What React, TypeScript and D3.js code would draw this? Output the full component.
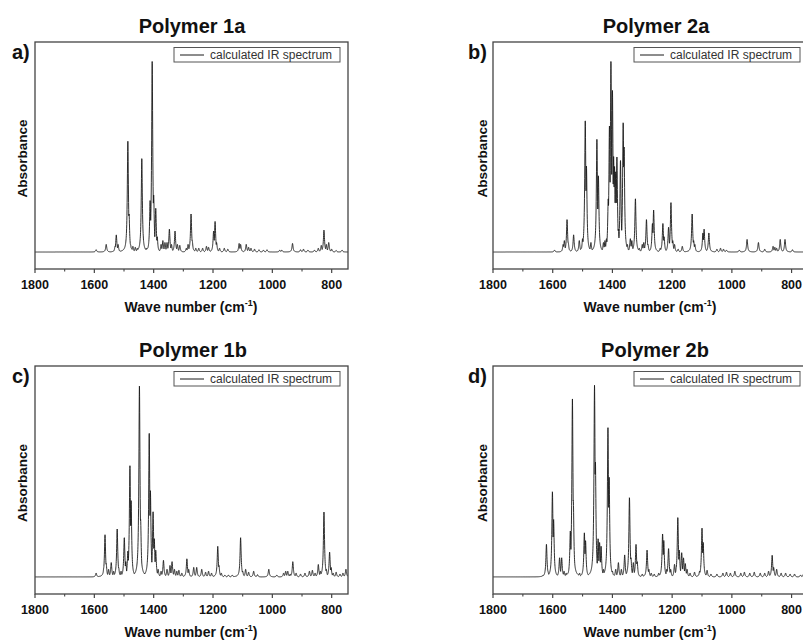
import React from "react";
import * as d3 from "d3";

// Wavenumber axis (cm^-1), reversed as usual for IR spectra
const wavenumberDomain = [1800, 745];
const absorbanceDomain = [-0.089, 1.1];
const majorTicks = [1800, 1600, 1400, 1200, 1000, 800];
const minorTicks = [1700, 1500, 1300, 1100, 900];

const panelLetters = ["a)", "b)", "c)", "d)"];
const panelTitles = ["Polymer 1a", "Polymer 2a", "Polymer 1b", "Polymer 2b"];
const legendLabel = "calculated IR spectrum";
const yAxisLabel = "Absorbance";

// Calculated vibrational bands: [wavenumber cm^-1, relative intensity]
const peaks1a: [number, number][] = [
  [1594, 0.012], [1560, 0.04], [1530, 0.03], [1526, 0.09], [1520, 0.04],
  [1487, 0.58], [1483, 0.2], [1478, 0.04], [1470, 0.03], [1462, 0.025], [1455, 0.02],
  [1440, 0.49], [1436, 0.1], [1425, 0.02], [1412, 0.27], [1409, 0.2], [1405, 1.0],
  [1400, 0.3], [1393, 0.23], [1388, 0.08], [1375, 0.04], [1369, 0.06], [1362, 0.05],
  [1355, 0.05], [1347, 0.12], [1340, 0.04], [1328, 0.11], [1320, 0.04], [1312, 0.035],
  [1290, 0.02], [1284, 0.04], [1274, 0.2], [1270, 0.06], [1258, 0.02], [1248, 0.02],
  [1235, 0.02], [1222, 0.03], [1215, 0.025], [1198, 0.11], [1193, 0.16], [1188, 0.05],
  [1178, 0.02], [1162, 0.02], [1150, 0.015], [1112, 0.045], [1107, 0.04], [1088, 0.04],
  [1080, 0.025], [1072, 0.02], [1060, 0.015], [1045, 0.012], [1030, 0.01], [1018, 0.012],
  [975, 0.01], [968, 0.01], [932, 0.045], [905, 0.012], [895, 0.015], [880, 0.01],
  [858, 0.01], [845, 0.02], [835, 0.035], [826, 0.115], [818, 0.04], [810, 0.05],
  [800, 0.015], [785, 0.008], [765, 0.01],
];

const peaks2a: [number, number][] = [
  [1594, 0.01], [1565, 0.04], [1561, 0.06], [1552, 0.17], [1548, 0.05], [1530, 0.09],
  [1511, 0.06], [1500, 0.07], [1491, 0.69], [1487, 0.45], [1472, 0.05], [1452, 0.59],
  [1447, 0.4], [1440, 0.03], [1430, 0.05], [1425, 0.06], [1420, 0.07], [1414, 0.28],
  [1410, 0.66], [1405, 1.0], [1400, 0.85], [1396, 0.5], [1393, 0.45], [1389, 0.42],
  [1385, 0.5], [1380, 0.12], [1373, 0.48], [1368, 0.1], [1364, 0.68], [1361, 0.55],
  [1350, 0.04], [1340, 0.07], [1335, 0.06], [1323, 0.28], [1310, 0.02], [1300, 0.04],
  [1295, 0.05], [1290, 0.04], [1286, 0.17], [1281, 0.04], [1266, 0.15], [1262, 0.22],
  [1240, 0.02], [1231, 0.15], [1227, 0.08], [1212, 0.13], [1204, 0.26], [1198, 0.06],
  [1192, 0.04], [1180, 0.015], [1166, 0.03], [1133, 0.2], [1128, 0.06], [1124, 0.04],
  [1097, 0.1], [1093, 0.12], [1077, 0.1], [1050, 0.015], [1038, 0.02], [1028, 0.015],
  [1018, 0.01], [975, 0.01], [949, 0.066], [911, 0.05], [890, 0.015], [862, 0.03],
  [856, 0.025], [850, 0.02], [838, 0.066], [822, 0.066], [797, 0.012],
];

const peaks1b: [number, number][] = [
  [1594, 0.02], [1568, 0.05], [1564, 0.22], [1560, 0.07], [1552, 0.04], [1543, 0.075],
  [1535, 0.03], [1523, 0.25], [1518, 0.05], [1510, 0.03], [1499, 0.205], [1494, 0.08],
  [1487, 0.135], [1480, 0.58], [1476, 0.4], [1470, 0.03], [1455, 0.04], [1448, 1.0],
  [1444, 0.3], [1430, 0.02], [1415, 0.75], [1411, 0.45], [1402, 0.34], [1398, 0.2],
  [1393, 0.14], [1385, 0.04], [1375, 0.03], [1367, 0.087], [1355, 0.04], [1345, 0.06],
  [1338, 0.08], [1330, 0.04], [1322, 0.03], [1315, 0.035], [1305, 0.02], [1288, 0.095],
  [1282, 0.04], [1265, 0.05], [1255, 0.05], [1238, 0.04], [1225, 0.025], [1215, 0.03],
  [1205, 0.02], [1184, 0.16], [1180, 0.06], [1172, 0.02], [1160, 0.01], [1148, 0.01],
  [1135, 0.01], [1107, 0.205], [1100, 0.03], [1090, 0.04], [1080, 0.025], [1063, 0.03],
  [1050, 0.012], [1012, 0.04], [985, 0.01], [962, 0.02], [955, 0.03], [948, 0.03],
  [940, 0.015], [931, 0.08], [920, 0.02], [905, 0.015], [890, 0.02], [875, 0.03],
  [865, 0.035], [856, 0.02], [845, 0.065], [838, 0.03], [826, 0.34], [818, 0.04],
  [807, 0.13], [802, 0.05], [795, 0.02], [785, 0.025], [772, 0.015], [762, 0.02],
  [752, 0.04],
];

const peaks2b: [number, number][] = [
  [1632, 0.01], [1621, 0.17], [1616, 0.03], [1601, 0.445], [1597, 0.3], [1577, 0.1],
  [1570, 0.1], [1562, 0.03], [1555, 0.02], [1545, 0.03], [1541, 0.24], [1534, 0.93],
  [1531, 0.4], [1510, 0.02], [1494, 0.23], [1490, 0.19], [1475, 0.02], [1465, 0.04],
  [1460, 1.0], [1457, 0.6], [1448, 0.2], [1443, 0.18], [1438, 0.16], [1430, 0.04],
  [1420, 0.05], [1415, 0.78], [1411, 0.52], [1400, 0.03], [1389, 0.04], [1380, 0.075],
  [1370, 0.04], [1359, 0.115], [1350, 0.03], [1343, 0.415], [1338, 0.1], [1330, 0.075],
  [1321, 0.17], [1317, 0.08], [1300, 0.015], [1284, 0.14], [1278, 0.04], [1270, 0.02],
  [1260, 0.015], [1245, 0.02], [1232, 0.225], [1228, 0.19], [1218, 0.04], [1212, 0.148],
  [1205, 0.04], [1192, 0.066], [1186, 0.05], [1181, 0.31], [1176, 0.14], [1168, 0.127],
  [1162, 0.1], [1156, 0.07], [1150, 0.04], [1140, 0.02], [1125, 0.025], [1108, 0.03],
  [1100, 0.255], [1096, 0.18], [1083, 0.035], [1070, 0.015], [1050, 0.015], [1030, 0.02],
  [1018, 0.025], [1005, 0.02], [990, 0.03], [970, 0.02], [958, 0.025], [940, 0.02],
  [925, 0.025], [905, 0.02], [890, 0.02], [877, 0.03], [865, 0.113], [860, 0.05],
  [850, 0.04], [835, 0.02], [820, 0.02], [805, 0.015], [790, 0.015], [770, 0.01],
  [760, 0.015],
];

const spectra = [peaks1a, peaks2a, peaks1b, peaks2b];

// Lorentzian half width at half maximum (cm^-1) used to broaden the bands
const HWHM = 2.2;

function broaden(peaks: [number, number][]): [number, number][] {
  const grid = d3.range(745, 1800.001, 0.35);
  return grid.map((w) => {
    let v = 0;
    for (const [c, h] of peaks) {
      const d = (w - c) / HWHM;
      const l = h / (1 + d * d);
      if (l > v) v = l;
    }
    return [w, v];
  });
}

const FONT = "'Liberation Sans', Arial, Helvetica, sans-serif";

type Frame = { left: number; top: number; right: number; bottom: number; titleX: number };
const frames: Frame[] = [
  { left: 35, top: 42, right: 348, bottom: 269, titleX: 192 },
  { left: 493, top: 42, right: 808, bottom: 269, titleX: 656 },
  { left: 35, top: 366, right: 348, bottom: 594, titleX: 193 },
  { left: 493, top: 366, right: 808, bottom: 594, titleX: 655 },
];

function Panel({ idx }: { idx: number }) {
  const f = frames[idx];
  const x = d3.scaleLinear().domain(wavenumberDomain).range([f.left, f.right]);
  const y = d3.scaleLinear().domain(absorbanceDomain).range([f.bottom, f.top]);
  const data = broaden(spectra[idx]);
  const line = d3
    .line<[number, number]>()
    .x((d) => x(d[0]))
    .y((d) => y(d[1]));
  const clipId = `clip-${idx}`;
  const cy = (f.top + f.bottom) / 2;
  const leftCol = idx % 2 === 0;
  const legendRight = f.right - 8;
  const legendLeft = legendRight - 166;
  const yLabelX = leftCol ? 27 : 487;
  const letterX = leftCol ? 12 : 468;
  const xTitleX = leftCol ? 191 : 650;

  return (
    <g>
      <defs>
        <clipPath id={clipId}>
          <rect x={f.left} y={f.top} width={f.right - f.left} height={f.bottom - f.top} />
        </clipPath>
      </defs>
      <text
        x={f.titleX}
        y={f.top - 9}
        textAnchor="middle"
        fontFamily={FONT}
        fontWeight="bold"
        fontSize={20}
        fill="#111"
      >
        {panelTitles[idx]}
      </text>
      <text x={letterX} y={f.top + 17} fontFamily={FONT} fontWeight="bold" fontSize={20} fill="#111">
        {panelLetters[idx]}
      </text>
      <text
        transform={`translate(${yLabelX},${cy + 3}) rotate(-90)`}
        textAnchor="middle"
        fontFamily={FONT}
        fontWeight="bold"
        fontSize={13.5}
        fill="#111"
      >
        {yAxisLabel}
      </text>

      <path
        d={line(data) || ""}
        fill="none"
        stroke="#1a1a1a"
        strokeWidth={0.9}
        strokeLinejoin="round"
        clipPath={`url(#${clipId})`}
      />

      <rect
        x={f.left}
        y={f.top}
        width={f.right - f.left}
        height={f.bottom - f.top}
        fill="none"
        stroke="#444"
        strokeWidth={1.3}
      />

      {majorTicks.map((t) => (
        <g key={`M${t}`}>
          <line x1={x(t)} x2={x(t)} y1={f.bottom} y2={f.bottom + 4} stroke="#444" strokeWidth={1.2} />
          <text
            x={x(t)}
            y={f.bottom + 20}
            textAnchor="middle"
            fontFamily={FONT}
            fontWeight="bold"
            fontSize={12.5}
            fill="#111"
          >
            {t}
          </text>
        </g>
      ))}
      {minorTicks.map((t) => (
        <line key={`m${t}`} x1={x(t)} x2={x(t)} y1={f.bottom} y2={f.bottom + 2.5} stroke="#444" strokeWidth={1.1} />
      ))}

      <text x={xTitleX} y={f.bottom + 43} textAnchor="middle" fontFamily={FONT} fontWeight="bold" fontSize={14} fill="#111">
        Wave number (cm
        <tspan fontSize={9} dy={-6}>-1</tspan>
        <tspan dy={6}>)</tspan>
      </text>

      <rect
        x={legendLeft}
        y={f.top + 5.5}
        width={166}
        height={14.5}
        fill="#fff"
        stroke="#555"
        strokeWidth={1}
      />
      <line x1={legendLeft + 6} x2={legendLeft + 30} y1={f.top + 13} y2={f.top + 13} stroke="#1a1a1a" strokeWidth={1} />
      <text x={legendLeft + 36} y={f.top + 17} fontFamily={FONT} fontSize={12} fill="#333">
        {legendLabel}
      </text>
    </g>
  );
}

export default function App() {
  return (
    <svg
      width={803}
      height={642}
      style={{ position: "absolute", left: 0, top: 0, background: "#fff", display: "block" }}
    >
      <rect width={803} height={642} fill="#fff" />
      {[0, 1, 2, 3].map((i) => (
        <Panel key={i} idx={i} />
      ))}
    </svg>
  );
}
